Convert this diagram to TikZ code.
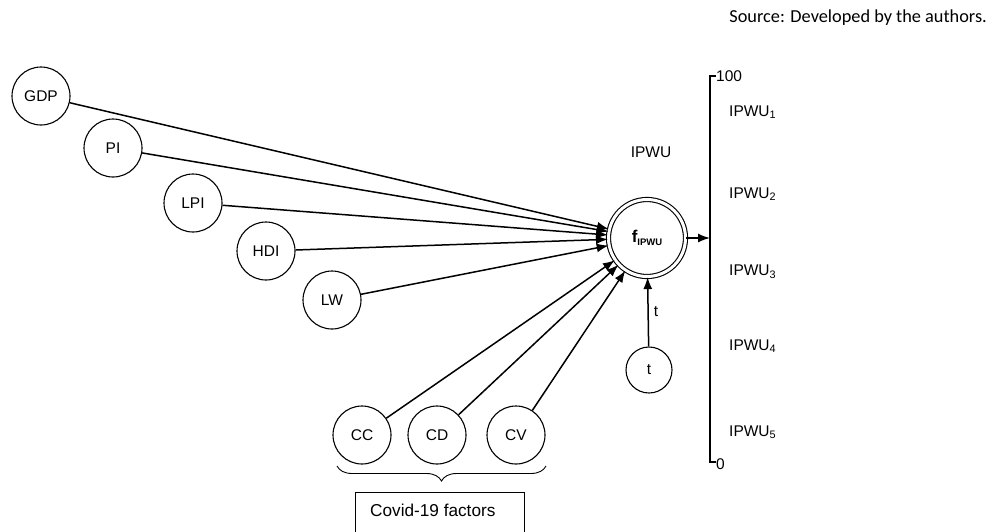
\documentclass[tikz,border=0pt]{standalone}
\usepackage{fontspec}
\setmainfont{Liberation Sans}
\newfontfamily\srcfont{Carlito}
\usetikzlibrary{arrows.meta,decorations.pathreplacing}
\begin{document}
\begin{tikzpicture}[x=1pt,y=-1pt,
  var/.style={circle,draw,line width=1.1pt,minimum size=58pt,inner sep=0pt,font=\fontsize{15.5}{18}\selectfont},
  arr/.style={line width=1.5pt,-{Latex[length=12pt,width=9pt]}},
  lbl/.style={font=\fontsize{15.5}{18}\selectfont,inner sep=0pt}]
\useasboundingbox (0,0) rectangle (996,531);
\node[font=\srcfont\fontsize{18.3}{21}\selectfont,anchor=east,inner sep=0pt] (src) at (987,18) {Source: Developed by the authors.};
% central node
\node[circle,draw,double,double distance=3pt,line width=1.1pt,minimum size=77pt,inner sep=0pt] (f) at (647,238) {\textbf{\fontsize{17}{19}\selectfont f\raisebox{-3pt}{\fontsize{9.5}{11}\selectfont IPWU}}};
% inputs
\node[var] (gdp) at (41,96) {GDP};
\node[var] (pi) at (113,148) {PI};
\node[var] (lpi) at (193,203) {LPI};
\node[var] (hdi) at (266,251) {HDI};
\node[var] (lw) at (332,300) {LW};
\node[var] (cc) at (362,435) {CC};
\node[var] (cd) at (437,435) {CD};
\node[var] (cv) at (516,435) {CV};
\node[var,minimum size=46pt] (t) at (649,370) {t};
\foreach \n in {gdp,pi,lpi,hdi,lw,cc,cd,cv} \draw[arr] (\n) -- (f);
\draw[arr] (t) -- node[lbl,right=5pt] {t} (f);
\node[lbl] (ipwu) at (651,152) {IPWU};
% axis
\coordinate (atop) at (710,76);
\coordinate (abot) at (710,462);
\coordinate (amid) at (710,238);
\draw[line width=1.5pt] ([xshift=6pt]atop) -- (atop) -- (abot) -- ([xshift=6pt]abot);
\draw[arr] (f) -- (amid);
\node[lbl,anchor=west] (top) at (716,76) {100};
\node[lbl,anchor=west] (bot) at (716,464) {0};
\node[lbl,anchor=west] (i1) at (729,112) {IPWU\textsubscript{1}};
\node[lbl,anchor=west] (i2) at (729,194) {IPWU\textsubscript{2}};
\node[lbl,anchor=west] (i3) at (729,272) {IPWU\textsubscript{3}};
\node[lbl,anchor=west] (i4) at (729,346) {IPWU\textsubscript{4}};
\node[lbl,anchor=west] (i5) at (729,432) {IPWU\textsubscript{5}};
% brace and box
\coordinate (bl) at (337,466);
\coordinate (br) at (546,466);
\draw[line width=0.9pt,decorate,decoration={brace,mirror,amplitude=15pt}] (bl) -- (br);
\draw[line width=1pt] (355,545) -- (355,492) -- (524,492) -- (524,545);
\node[lbl,anchor=west,font=\fontsize{17.2}{20}\selectfont] (covid) at (370,510) {Covid-19 factors};
\end{tikzpicture}
\end{document}
